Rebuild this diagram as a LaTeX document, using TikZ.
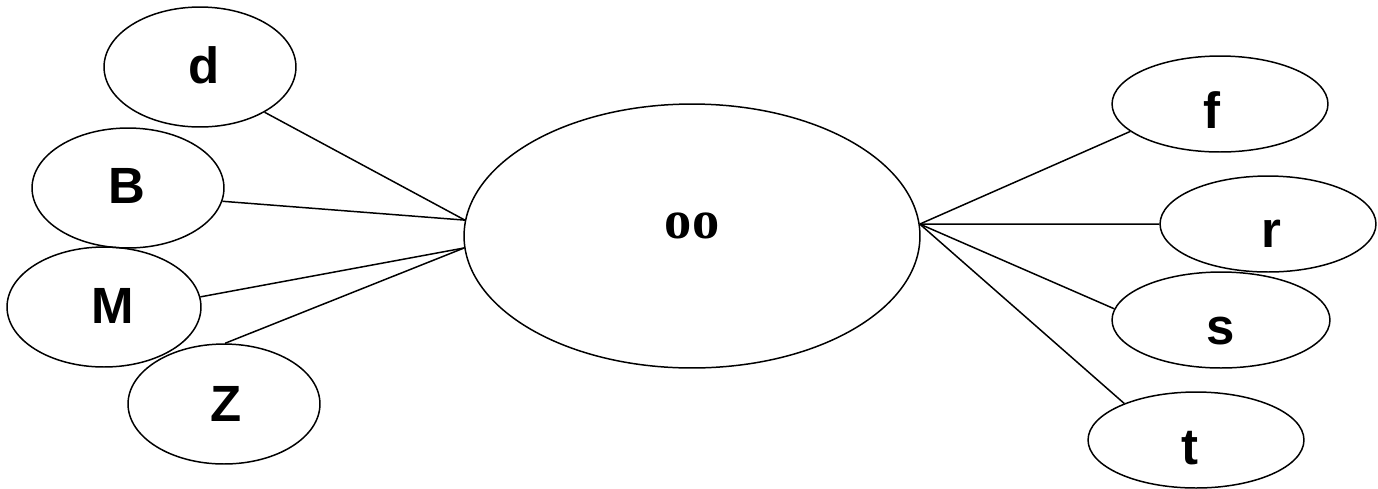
\documentclass[tikz,border=0pt]{standalone}
\usepackage{fontspec}
\setmainfont{Liberation Sans}
\newfontfamily\serifbold{Liberation Serif}
\usetikzlibrary{shapes.geometric}
\begin{document}
\begin{tikzpicture}[x=0.02cm,y=-0.02cm,
  oval/.style={ellipse,draw,line width=0.85pt,inner sep=0pt,minimum width=#1*0.04cm},
  oval/.default=96,
  lbl/.style={anchor=base,inner sep=0pt,font=\fontsize{29}{29}\selectfont\bfseries},
  link/.style={line width=0.85pt}]
\useasboundingbox (0,0) rectangle (1378,488);
% ellipses
\node[oval, minimum height=2.4cm] (d) at (200,67) {};
\node[oval, minimum height=2.4cm] (B) at (128,188) {};
\node[oval, minimum width=1.94*2cm, minimum height=2.4cm] (M) at (104,307) {};
\node[oval, minimum height=2.4cm] (Z) at (224,404) {};
\node[ellipse,draw,line width=0.85pt,inner sep=0pt,minimum width=9.12cm,minimum height=5.28cm] (oo) at (692,236) {};
\node[oval=108, minimum height=1.92cm] (f) at (1220,104) {};
\node[oval=108, minimum height=1.92cm] (r) at (1268,224) {};
\node[oval=109, minimum height=1.92cm] (s) at (1221,320) {};
\node[oval=108, minimum height=1.92cm] (t) at (1196,440) {};
% labels
\node[lbl] (dl) at (204,83) {d};
\node[lbl] (Bl) at (127,203) {B};
\node[lbl] (Ml) at (113,323) {M};
\node[lbl] (Zl) at (226,421) {Z};
\node[lbl] (fl) at (1212,128) {f};
\node[lbl] (rl) at (1271,247) {r};
\node[lbl] (sl) at (1221,344) {s};
\node[lbl] (tl) at (1190,464) {t};
\node[anchor=base,inner sep=0pt,font=\fontsize{31}{31}\selectfont\serifbold\bfseries] (ool) at (692,238) {oo};
% connectors
\coordinate (oA) at (oo.176.7);
\coordinate (oB) at (oo.-177);
\coordinate (oC) at (oo.3.3);
\draw[link] (d.-35) -- (oA);
\draw[link] (B.-8.5) -- (oA);
\draw[link] (M.6.6) -- (oB);
\draw[link] (Z.89) -- (oB);
\draw[link] (oC) -- (f.-163);
\draw[link] (oC) -- (r.180);
\draw[link] (oC) -- (s.174);
\draw[link] (oC) -- (t.153);
\end{tikzpicture}
\end{document}
